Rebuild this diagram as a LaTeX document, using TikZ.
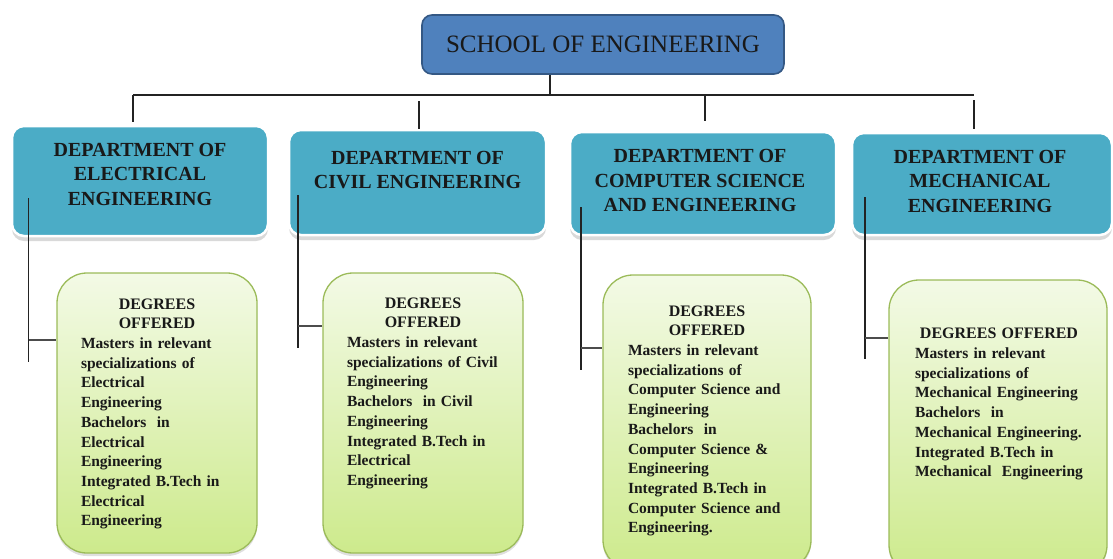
\documentclass[tikz,border=0pt]{standalone}
\usepackage{fontspec}
\setmainfont{Liberation Serif}
\usetikzlibrary{calc,shadows,positioning}

\definecolor{schoolblue}{RGB}{79,129,189}
\definecolor{schooledge}{RGB}{52,88,132}
\definecolor{deptteal}{RGB}{75,172,198}
\definecolor{degedge}{RGB}{155,187,89}
\definecolor{degtop}{RGB}{243,250,230}
\definecolor{degbot}{RGB}{205,234,140}
\definecolor{wire}{RGB}{35,35,35}

\begin{document}
\begin{tikzpicture}[x=1pt,y=-1pt,
    school/.style={draw=schooledge,fill=schoolblue,line width=1.6pt,rounded corners=10pt,inner sep=0pt,
        minimum width=362pt,minimum height=59pt,font=\fontsize{25}{30}\selectfont,text=black!90},
    dept/.style={fill=deptteal,draw=white,line width=2.5pt,rounded corners=12pt,inner sep=0pt,
        drop shadow={shadow xshift=0pt,shadow yshift=-5pt,opacity=.3}},
    depttext/.style={align=center,inner sep=0pt,font=\fontsize{20}{24.5}\selectfont\bfseries,text=black!90},
    degree/.style={draw=degedge,line width=1.3pt,rounded corners=30pt,top color=degtop,bottom color=degbot,
        inner sep=0pt,minimum width=200pt,minimum height=280pt,
        drop shadow={shadow xshift=0pt,shadow yshift=-3pt,opacity=.25}},
    degtext/.style={anchor=north,align=left,inner sep=0pt,text width=152pt,
        font=\fontsize{15.5}{19.7}\selectfont\bfseries,text=black!90},
    link/.style={draw=wire,line width=1.8pt},
    branch/.style={draw=black!70,line width=2.6pt}]
\useasboundingbox (0,0) rectangle (1113,558);

\node[school] (sch) at (603,44.5) {SCHOOL OF ENGINEERING};

\node[dept,minimum width=256pt,minimum height=110pt] (dE) at (140,181) {};
\node[dept,minimum width=257pt,minimum height=105pt] (dC) at (417.5,182.5) {};
\node[dept,minimum width=266pt,minimum height=103pt] (dS) at (703,183.5) {};
\node[dept,minimum width=260pt,minimum height=102pt] (dM) at (982,184) {};

\node[depttext] (tE) at (140,174) {DEPARTMENT OF\\ELECTRICAL\\ENGINEERING};
\node[depttext] (tC) at (417.5,170) {DEPARTMENT OF\\CIVIL ENGINEERING};
\node[depttext] (tS) at (700,180.5) {DEPARTMENT OF\\COMPUTER SCIENCE\\AND ENGINEERING};
\node[depttext] (tM) at (980,181) {DEPARTMENT OF\\MECHANICAL\\ENGINEERING};

\node[degree] (gE) at (157,413) {};
\node[degree] (gC) at (423,413) {};
\node[degree,minimum width=208pt,minimum height=295pt] (gS) at (707,422.5) {};
\node[degree,minimum width=218pt,minimum height=295pt] (gM) at (998,427.5) {};

\node[degtext] (xE) at (157,299) {{\fontsize{16}{19}\selectfont\centering DEGREES\\OFFERED\par}
    Masters in relevant\\specializations of\\Electrical\\Engineering\\Bachelors~ in\\Electrical\\Engineering\\Integrated B.Tech in\\Electrical\\Engineering};
\node[degtext] (xC) at (423,298) {{\fontsize{16}{19}\selectfont\centering DEGREES\\OFFERED\par}
    Masters in relevant\\specializations of Civil\\Engineering\\Bachelors~ in Civil\\Engineering\\Integrated B.Tech in\\Electrical\\Engineering};
\node[degtext,text width=158pt] (xS) at (707,306) {{\fontsize{16}{19}\selectfont\centering DEGREES\\OFFERED\par}
    Masters in relevant\\specializations of\\Computer Science and\\Engineering\\Bachelors~ in\\Computer Science \&\\Engineering\\Integrated B.Tech in\\Computer Science and\\Engineering.};
\node[degtext,text width=168pt] (xM) at (999,328) {{\fontsize{16}{19}\selectfont\centering DEGREES OFFERED\par}
    Masters in relevant\\specializations of\\Mechanical Engineering\\Bachelors~ in\\Mechanical Engineering.\\Integrated B.Tech in\\Mechanical~ Engineering};

\coordinate (hub) at (550,95);
\coordinate (jE) at (133,95);
\coordinate (jC) at (419,101);
\coordinate (jS) at (705,95);
\coordinate (jM) at (974,100);
\draw[link] (sch.south -| hub) -- (hub);
\draw[link] (jE) -- (jM |- hub);
\draw[link] (jE) -- ($(jE |- dE.north)+(0,-3)$);
\draw[link] (jC) -- (jC |- dC.north);
\draw[link] (jS) -- ($(jS |- dS.north)+(0,-10)$);
\draw[link] (jM) -- ($(jM |- dM.north)+(0,-3)$);

\coordinate (sE) at (28.5,198);
\coordinate (kE) at (28.5,340);
\coordinate (eE) at (28.5,362);
\coordinate (sC) at (298,195);
\coordinate (kC) at (298,326);
\coordinate (eC) at (298,348);
\coordinate (sS) at (581,207);
\coordinate (kS) at (581,348);
\coordinate (eS) at (581,370);
\coordinate (sM) at (865,197);
\coordinate (kM) at (865,338);
\coordinate (eM) at (865,359);
\draw[link] (sE) -- (eE);
\draw[link] (sC) -- (eC);
\draw[link] (sS) -- (eS);
\draw[link] (sM) -- (eM);
\draw[branch] (kE) -- (kE -| gE.west);
\draw[branch] (kC) -- (kC -| gC.west);
\draw[branch] (kS) -- (kS -| gS.west);
\draw[branch] (kM) -- (kM -| gM.west);
\end{tikzpicture}
\end{document}
